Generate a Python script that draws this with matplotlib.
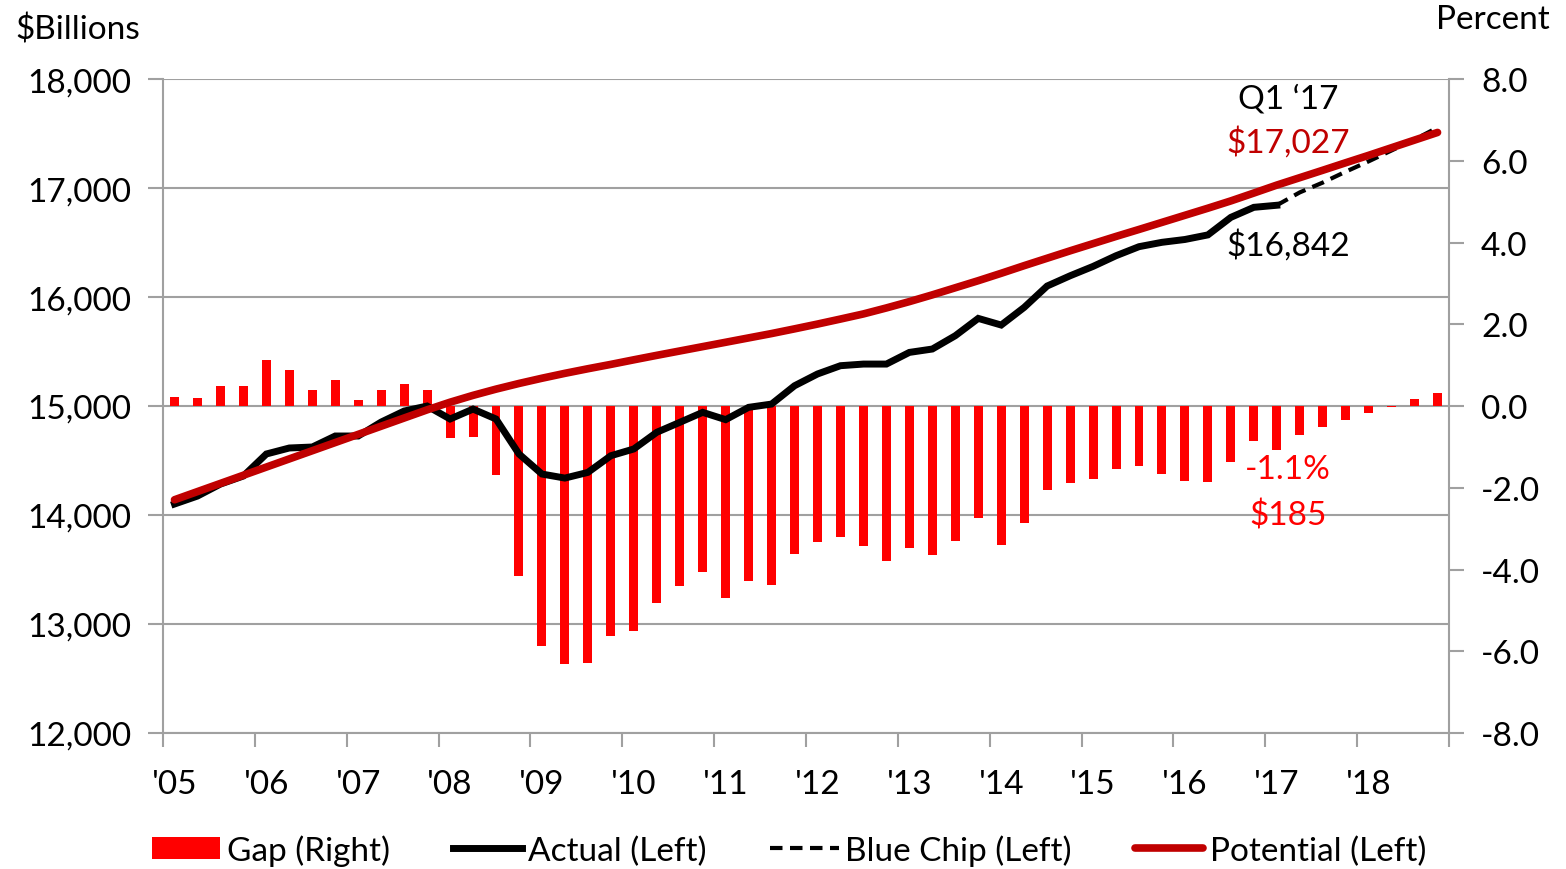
import numpy as np
import matplotlib
matplotlib.use('Agg')
import matplotlib.pyplot as plt
from matplotlib.lines import Line2D
from matplotlib.patches import Patch
from matplotlib.ticker import FuncFormatter, FixedLocator

plt.rcParams['font.family'] = ['Lato', 'DejaVu Sans']
plt.rcParams['axes.unicode_minus'] = False

# quarterly data, Q1 2005 .. Q4 2018
years = ["'05", "'06", "'07", "'08", "'09", "'10", "'11",
         "'12", "'13", "'14", "'15", "'16", "'17", "'18"]

# output gap, percent (right axis)
gap = [0.21, 0.20, 0.48, 0.50, 1.13, 0.88, 0.40, 0.64,
       0.15, 0.38, 0.53, 0.38, -0.78, -0.76, -1.68, -4.16,
       -5.86, -6.30, -6.28, -5.63, -5.50, -4.81, -4.41, -4.05,
       -4.70, -4.28, -4.38, -3.62, -3.32, -3.21, -3.43, -3.78,
       -3.47, -3.65, -3.30, -2.73, -3.40, -2.85, -2.06, -1.88,
       -1.79, -1.55, -1.47, -1.66, -1.83, -1.85, -1.37, -0.86,
       -1.08, -0.72, -0.51, -0.35, -0.18, -0.02, 0.16, 0.32]

# actual GDP, $billions (left axis), up to Q1 '17
actual = [14101, 14174, 14284, 14358, 14560, 14615, 14624, 14725,
          14725, 14853, 14954, 15000, 14881, 14972, 14881, 14560,
          14376, 14339, 14391, 14544, 14606, 14759, 14850, 14942,
          14875, 14988, 15018, 15186, 15294, 15370, 15385, 15385,
          15492, 15523, 15645, 15804, 15743, 15905, 16101, 16195,
          16281, 16379, 16462, 16502, 16528, 16570, 16731, 16823,
          16842]

# potential GDP, $billions (left axis)
potential = [14140, 14215, 14290, 14365, 14440, 14515, 14590, 14665,
             14740, 14815, 14890, 14965, 15035, 15098, 15155, 15207,
             15255, 15300, 15342, 15382, 15424, 15465, 15505, 15545,
             15585, 15625, 15665, 15708, 15752, 15798, 15845, 15900,
             15958, 16020, 16085, 16150, 16218, 16288, 16356, 16424,
             16490, 16556, 16620, 16685, 16750, 16815, 16882, 16954,
             17027, 17095, 17163, 17232, 17300, 17370, 17440, 17510]

# Blue Chip forecast, $billions (left axis), from Q1 '17
blue_chip = [16842, 16960, 17050, 17150, 17245, 17345, 17445, 17555]

grey = '#A0A0A0'
red = '#FF0000'
dark_red = '#C00000'
fs = 24

n = len(gap)
x = np.arange(n)
x_act = np.arange(len(actual))
x_bc = np.arange(len(actual) - 1, len(actual) - 1 + len(blue_chip))

fig = plt.figure(figsize=(15.66, 8.7), dpi=100)
ax = fig.add_axes([0.1041, 0.1563, 0.8212, 0.7517])
ax2 = ax.twinx()
ax3 = ax.twinx()

# left axis: grid and ticks
ax.set_xlim(-0.5, n - 0.5)
ax.set_ylim(12000, 18000)
ax.set_yticks(np.arange(12000, 18001, 1000))
ax.yaxis.set_major_formatter(FuncFormatter(lambda v, p: f'{v:,.0f}'))
ax.grid(axis='y', color=grey, lw=1.5)
ax.set_axisbelow(True)
ax.tick_params(axis='y', direction='out', length=11, width=1.5, color=grey,
               labelsize=fs, pad=12)
ax.xaxis.set_major_locator(FixedLocator(np.arange(-0.5, n, 4)))
ax.xaxis.set_minor_locator(FixedLocator(np.arange(0, n, 4)))
ax.set_xticklabels([], minor=False)
ax.set_xticklabels(years, minor=True)
ax.tick_params(axis='x', which='major', direction='out', length=10, width=1.5,
               color=grey)
ax.tick_params(axis='x', which='minor', length=0, labelsize=fs, pad=26)
for s in ['top', 'right']:
    ax.spines[s].set_visible(False)
for s in ['left', 'bottom']:
    ax.spines[s].set_color(grey)
    ax.spines[s].set_linewidth(1.5)

# right axis: gap bars
ax2.bar(x, gap, width=0.39, color=red, zorder=2)
ax2.set_ylim(-8, 8)
ax2.set_yticks(np.arange(-8, 8.1, 2))
ax2.yaxis.set_major_formatter(FuncFormatter(lambda v, p: f'{v:.1f}'))
ax2.tick_params(axis='y', direction='out', length=11, width=1.5, color=grey,
                labelsize=fs, pad=12)
for s in ['top', 'left', 'bottom']:
    ax2.spines[s].set_visible(False)
ax2.spines['right'].set_color(grey)
ax2.spines['right'].set_linewidth(1.5)

# lines on top, sharing the left scale
ax3.set_ylim(ax.get_ylim())
ax3.axis('off')
ax3.plot(x_bc, blue_chip, color='black', lw=3, dashes=(3, 1.8))
ax3.plot(x_act, actual, color='black', lw=5, solid_joinstyle='miter')
ax3.plot(x, potential, color=dark_red, lw=5.5, solid_capstyle='round')

# annotations
ax3.text(48.5, 17817, 'Q1 \u201817', ha='center', va='center', fontsize=fs,
         color='black')
ax3.text(48.5, 17422, '$17,027', ha='center', va='center', fontsize=fs,
         color=dark_red)
ax3.text(48.5, 16477, '$16,842', ha='center', va='center', fontsize=fs,
         color='black')
ax2.text(48.5, -1.54, '-1.1%', ha='center', va='center', fontsize=fs,
         color=red)
ax2.text(48.5, -2.67, '$185', ha='center', va='center', fontsize=fs,
         color=red)

fig.text(15 / 1566, 1 - 30 / 870, '$Billions', ha='left', va='center',
         fontsize=fs)
fig.text(1550 / 1566, 1 - 20 / 870, 'Percent', ha='right', va='center',
         fontsize=fs)

handles = [Patch(facecolor=red),
           Line2D([], [], color='black', lw=5),
           Line2D([], [], color='black', lw=3, dashes=(3, 1.8)),
           Line2D([], [], color=dark_red, lw=5.5, solid_capstyle='round')]
labels = ['Gap (Right)', 'Actual (Left)', 'Blue Chip (Left)', 'Potential (Left)']
fig.legend(handles, labels, loc='center', bbox_to_anchor=(0.504, 1 - 851 / 870),
           ncol=4, frameon=False, fontsize=fs, handlelength=2.05,
           handletextpad=0.2, columnspacing=1.9, handleheight=0.65)

fig.savefig('out.png', dpi=100)
